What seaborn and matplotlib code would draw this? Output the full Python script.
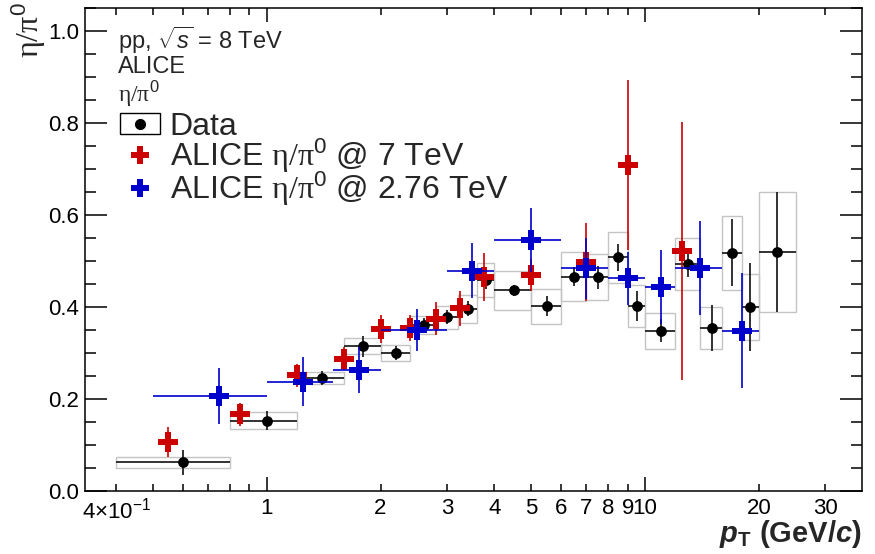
import numpy as np
import pandas as pd
import matplotlib
matplotlib.use("Agg")
import matplotlib.pyplot as plt
import seaborn as sns
from matplotlib.patches import Rectangle
from matplotlib.lines import Line2D

# ---------------- data ----------------
# 8 TeV data: bin edges, mean pT, value, stat. and syst. uncertainties
data_lo = [0.4, 0.8, 1.2, 1.6, 2.0, 2.4, 2.8, 3.2, 3.6, 4.0, 5.0, 6.0, 7.0, 8.0, 9.0, 10.0, 12.0, 14.0, 16.0, 18.0, 20.0]
data_hi = [0.8, 1.2, 1.6, 2.0, 2.4, 2.8, 3.2, 3.6, 4.0, 5.0, 6.0, 7.0, 8.0, 9.0, 10.0, 12.0, 14.0, 16.0, 18.0, 20.0, 25.0]
data_pt = [0.60, 1.00, 1.40, 1.80, 2.20, 2.60, 3.00, 3.40, 3.80, 4.50, 5.50, 6.50, 7.50, 8.50, 9.50, 11.0, 13.0, 15.0, 17.0, 19.0, 22.4]
data_val = [0.062, 0.153, 0.246, 0.315, 0.300, 0.361, 0.378, 0.396, 0.459, 0.436, 0.402, 0.466, 0.465, 0.508, 0.402,
            0.348, 0.493, 0.355, 0.518, 0.400, 0.520]
data_stat = [0.027, 0.021, 0.015, 0.023, 0.015, 0.015, 0.015, 0.016, 0.020, 0.012, 0.022, 0.020, 0.025, 0.030, 0.032,
             0.025, 0.028, 0.050, 0.073, 0.095, 0.130]
data_sys = [0.011, 0.019, 0.013, 0.018, 0.017, 0.020, 0.025, 0.030, 0.037, 0.042, 0.038, 0.053, 0.050, 0.056, 0.045,
            0.040, 0.056, 0.046, 0.080, 0.072, 0.130]

# ALICE eta/pi0 @ 7 TeV
r7_pt = [0.55, 0.85, 1.20, 1.60, 2.00, 2.40, 2.80, 3.25, 3.75, 5.0, 7.0, 9.0, 12.5]
r7_val = [0.107, 0.167, 0.252, 0.288, 0.352, 0.355, 0.375, 0.397, 0.466, 0.470, 0.498, 0.709, 0.522]
r7_err = [0.033, 0.025, 0.025, 0.025, 0.031, 0.028, 0.036, 0.038, 0.052, 0.035, 0.085, 0.185, 0.280]

# ALICE eta/pi0 @ 2.76 TeV
b_lo = [0.5, 1.0, 1.5, 2.0, 3.0, 4.0, 6.0, 8.0, 10.0, 12.0, 16.0]
b_hi = [1.0, 1.5, 2.0, 3.0, 4.0, 6.0, 8.0, 10.0, 12.0, 16.0, 20.0]
b_pt = [0.75, 1.25, 1.75, 2.5, 3.5, 5.0, 7.0, 9.0, 11.0, 14.0, 18.0]
b_val = [0.2065, 0.238, 0.262, 0.350, 0.479, 0.546, 0.484, 0.462, 0.444, 0.484, 0.348]
b_err = [0.060, 0.053, 0.050, 0.045, 0.060, 0.070, 0.066, 0.058, 0.081, 0.102, 0.125]

xtick_major = [1, 10]
xtick_major_labels = ["1", "10"]
xtick_minor = [0.4, 0.5, 0.6, 0.7, 0.8, 0.9, 2, 3, 4, 5, 6, 7, 8, 9, 20, 30]
xtick_minor_labels = [r"$4{\times}10^{-1}$", "", "", "", "", "", "2", "3", "4", "5", "6", "7", "8", "9", "20", "30"]
ytick_major = [0.0, 0.2, 0.4, 0.6, 0.8, 1.0]
ytick_labels = ["0.0", "0.2", "0.4", "0.6", "0.8", "1.0"]

RED = "#cc0000"
BLUE = "#0000cc"

# ---------------- style ----------------
sns.set_theme(style="ticks")
plt.rcParams["font.family"] = ["Liberation Sans", "DejaVu Sans"]
plt.rcParams.update({
    "mathtext.fontset": "custom",
    "mathtext.rm": "Liberation Sans",
    "mathtext.it": "Liberation Sans:italic",
    "mathtext.bf": "Liberation Sans:bold",
    "mathtext.bfit": "Liberation Sans:italic:bold",
    "mathtext.sf": "Liberation Serif",
    "axes.linewidth": 1.1,
    "xtick.color": "black",
    "ytick.color": "black",
})

fig = plt.figure(figsize=(8.75, 5.54), dpi=100)
ax = fig.add_axes([85 / 875, 1 - 491 / 554, 776.7 / 875, 483 / 554])
ax.set_facecolor("white")
fig.patch.set_facecolor("white")

d = pd.DataFrame({"pt": data_pt, "val": data_val, "stat": data_stat, "sys": data_sys,
                  "lo": data_lo, "hi": data_hi})
r = pd.DataFrame({"pt": r7_pt, "val": r7_val, "err": r7_err})
b = pd.DataFrame({"pt": b_pt, "val": b_val, "err": b_err, "lo": b_lo, "hi": b_hi})

# systematic boxes
for _, row in d.iterrows():
    ax.add_patch(Rectangle((row.lo, row.val - row.sys), row.hi - row.lo, 2 * row.sys,
                           fill=False, edgecolor="#c4c4c4", lw=1.0, zorder=1))

# data stat errors + markers
ax.errorbar(d.pt, d.val, xerr=[d.pt - d.lo, d.hi - d.pt], yerr=d.stat, fmt="none",
            ecolor="#222222", elinewidth=1.3, capsize=0, zorder=2)
sns.scatterplot(data=d, x="pt", y="val", color="black", marker="o", s=60, linewidth=0,
                ax=ax, zorder=3, legend=False)

# 7 TeV
ax.errorbar(r.pt, r.val, yerr=r.err, fmt="none", ecolor=RED, elinewidth=1.2, capsize=0, zorder=4)
sns.scatterplot(data=r, x="pt", y="val", color=RED, marker="P", s=200, linewidth=0,
                ax=ax, zorder=5, legend=False)

# 2.76 TeV
ax.errorbar(b.pt, b.val, xerr=[b.pt - b.lo, b.hi - b.pt], yerr=b.err, fmt="none",
            ecolor=BLUE, elinewidth=1.2, capsize=0, zorder=6)
sns.scatterplot(data=b, x="pt", y="val", color=BLUE, marker="P", s=200, linewidth=0,
                ax=ax, zorder=7, legend=False)

# ---------------- axes ----------------
ax.set_xscale("log")
ax.set_xlim(0.331, 37.4)
ax.set_ylim(0.0, 1.05)

ax.set_xticks(xtick_major, xtick_major_labels)
ax.set_xticks(xtick_minor, xtick_minor_labels, minor=True)
ax.set_yticks(ytick_major, ytick_labels)
ax.set_yticks(np.arange(0, 1.051, 0.05), minor=True)
ax.yaxis.set_minor_formatter(matplotlib.ticker.NullFormatter())

ax.tick_params(axis="both", which="both", direction="in", top=True, right=True, labelsize=16,
               width=1.1, color="black")
ax.tick_params(axis="x", which="major", length=10, pad=5)
ax.tick_params(axis="x", which="minor", length=5, pad=5)
ax.tick_params(axis="y", which="major", length=15.5, pad=4)
ax.tick_params(axis="y", which="minor", length=8)
for s in ax.spines.values():
    s.set_color("black")
    s.set_linewidth(1.1)

ax.set_xlabel(r"$\mathbfit{p}_{\mathbf{T}}$ (GeV/$\mathbfit{c}$)", fontsize=21, fontweight="bold", loc="right")
ax.xaxis.set_label_coords(1.0, -0.056)
ax.set_ylabel(r"$\mathsf{\eta/\pi}^{0}$", fontsize=23, loc="top")
ax.yaxis.set_label_coords(-0.047, 1.012)

# ---------------- texts ----------------
ax.text(0.0425, 0.934, r"pp, $\sqrt{s}$ = 8 TeV", transform=ax.transAxes, fontsize=17, va="center", ha="left")
ax.text(0.0425, 0.877, "ALICE", transform=ax.transAxes, fontsize=17, va="center", ha="left")
ax.text(0.0425, 0.823, r"$\mathsf{\eta/\pi}^{0}$", transform=ax.transAxes, fontsize=17, va="center", ha="left")

# ---------------- legend ----------------
h_data = (Rectangle((0, 0), 1, 1, fill=False, edgecolor="black", lw=1.0),
          Line2D([], [], marker="o", color="black", ls="none", ms=7))
h_red = Line2D([], [], marker="P", color=RED, ls="none", ms=13.5, markeredgewidth=0)
h_blue = Line2D([], [], marker="P", color=BLUE, ls="none", ms=13.5, markeredgewidth=0)
ax.legend([h_data, h_red, h_blue],
          ["Data", r"ALICE $\mathsf{\eta/\pi}^{0}$ @ 7 TeV", r"ALICE $\mathsf{\eta/\pi}^{0}$ @ 2.76 TeV"],
          loc="upper left", bbox_to_anchor=(0.045, 0.785), frameon=False, fontsize=23,
          handlelength=1.25, handleheight=0.65, handletextpad=0.31, labelspacing=-0.17,
          borderpad=0, borderaxespad=0)

fig.savefig("out.png", dpi=100)
